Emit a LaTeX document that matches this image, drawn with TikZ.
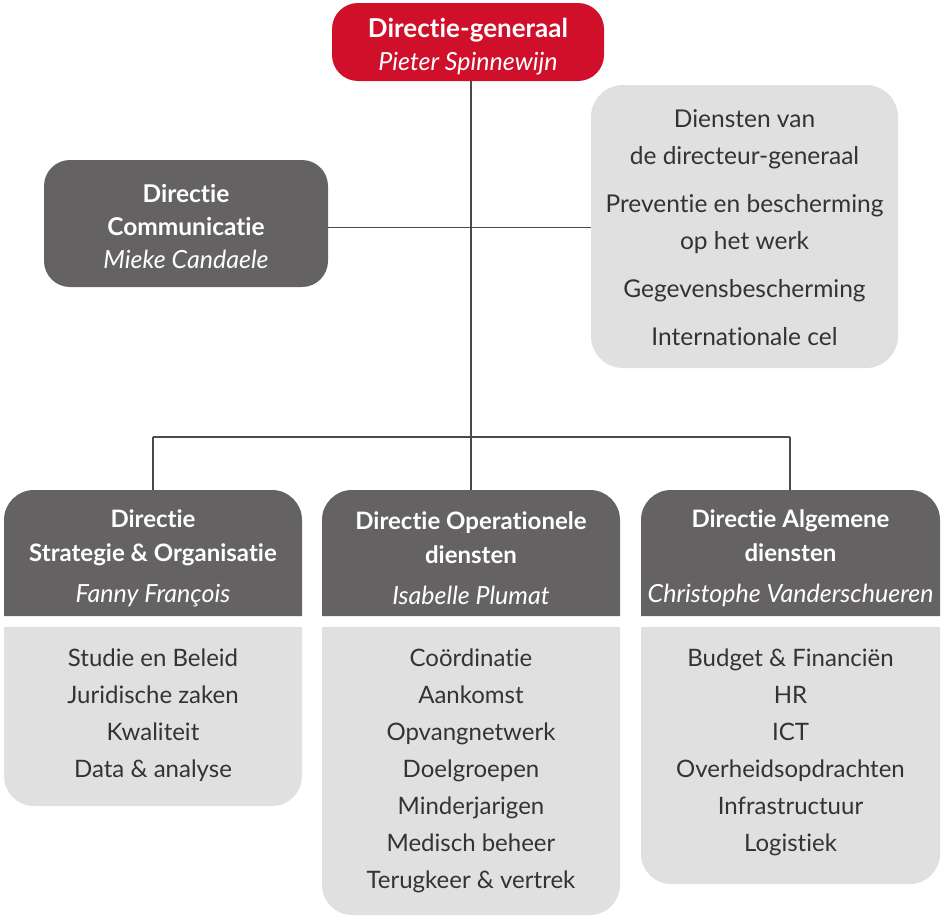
\documentclass[tikz,border=0pt]{standalone}
\usepackage{fontspec}
\setmainfont{Lato}[Ligatures=NoCommon, RawFeature={-liga;-dlig}]
\definecolor{dgred}{HTML}{D0102B}
\definecolor{dark}{HTML}{656263}
\definecolor{light}{HTML}{E1E0E0}
\definecolor{linec}{HTML}{4A4A4A}
\definecolor{txt}{HTML}{333333}
\newcommand{\nm}[1]{{\fontsize{25}{34}\selectfont\mdseries\itshape #1}}
\tikzset{
  boxnode/.style={inner sep=0pt, align=center, anchor=center},
  hdrtxt/.style={boxnode, text=white, minimum width=298pt, minimum height=126pt, yshift=-5pt, font=\fontsize{24}{34}\selectfont\bfseries},
  bodytxt/.style={boxnode, text=txt, minimum width=298pt, yshift=-1pt, font=\fontsize{24}{37}\selectfont},
  conn/.style={draw=linec, line width=1.1pt},
}
\begin{document}
\begin{tikzpicture}[x=1pt,y=1pt]
\useasboundingbox (0,0) rectangle (945,-921);
% top box
\fill[dgred, rounded corners=26pt] (332,-3) rectangle (604,-81);
\node[boxnode, text=white, minimum width=272pt, minimum height=78pt, font=\fontsize{25}{33}\selectfont] (dg) at (468,-46.5)
  {{\fontsize{26}{33}\selectfont\bfseries Directie-generaal}\\\nm{Pieter Spinnewijn}};
% communicatie
\fill[dark, rounded corners=26pt] (44,-160) rectangle (328,-287);
\node[boxnode, text=white, minimum width=284pt, minimum height=127pt, font=\fontsize{24.5}{33}\selectfont] (comm) at (186,-227)
  {\textbf{Directie}\\\textbf{Communicatie}\\\nm{Mieke Candaele}};
% diensten box
\fill[light, rounded corners=32pt] (591,-85) rectangle (898,-368);
\node[boxnode, text=txt, minimum width=307pt, minimum height=283pt, font=\fontsize{24.5}{37}\selectfont] (dienst) at (744.5,-227.5)
  {Diensten van\\de directeur-generaal\\[11pt]Preventie en bescherming\\op het werk\\[11pt]Gegevensbescherming\\[11pt]Internationale cel};
% headers and bodies
\foreach \xa/\xb/\yb in {4/302/806, 322/620/915, 641/940/884}{
  \fill[dark] (\xa,-616) -- (\xa,-520) arc[start angle=180,end angle=90,radius=30] -- (\xb-30,-490) arc[start angle=90,end angle=0,radius=30] -- (\xb,-616) -- cycle;
  \fill[light] (\xa,-627) -- (\xb,-627) -- (\xb,-\yb+30) arc[start angle=0,end angle=-90,radius=30] -- (\xa+30,-\yb) arc[start angle=270,end angle=180,radius=30] -- cycle;
}
\node[hdrtxt] (s) at (153,-553) {Directie\\Strategie \& Organisatie\\[7pt]\nm{Fanny François}};
\node[hdrtxt] (o) at (471,-553) {Directie Operationele\\diensten\\[7pt]\nm{Isabelle Plumat}};
\node[hdrtxt] (a) at (790.5,-553) {Directie Algemene\\diensten\\[7pt]\nm{Christophe Vanderschueren}};
\node[bodytxt] (sb) at (153,-714) {Studie en Beleid\\Juridische zaken\\Kwaliteit\\Data \& analyse};
\node[bodytxt] (ob) at (471,-770) {Coördinatie\\Aankomst\\Opvangnetwerk\\Doelgroepen\\Minderjarigen\\Medisch beheer\\Terugkeer \& vertrek};
\node[bodytxt] (ab) at (790.5,-751.5) {Budget \& Financiën\\HR\\ICT\\Overheidsopdrachten\\Infrastructuur\\Logistiek};
% connectors
\coordinate (j) at (471,-437);
\coordinate (jl) at (153,-437);
\coordinate (jr) at (790,-437);
\draw[conn] ([yshift=4.5pt]dg.south -| j) -- (j);
\draw[conn] (comm.east |- dienst.west) -- (dienst.west);
\draw[conn] (jl) -- (jr);
\draw[conn] (jl) -- ([yshift=5pt]s.north);
\draw[conn] (j) -- ([yshift=5pt]o.north);
\draw[conn] (jr) -- ([yshift=5pt]jr |- a.north);
\end{tikzpicture}
\end{document}
